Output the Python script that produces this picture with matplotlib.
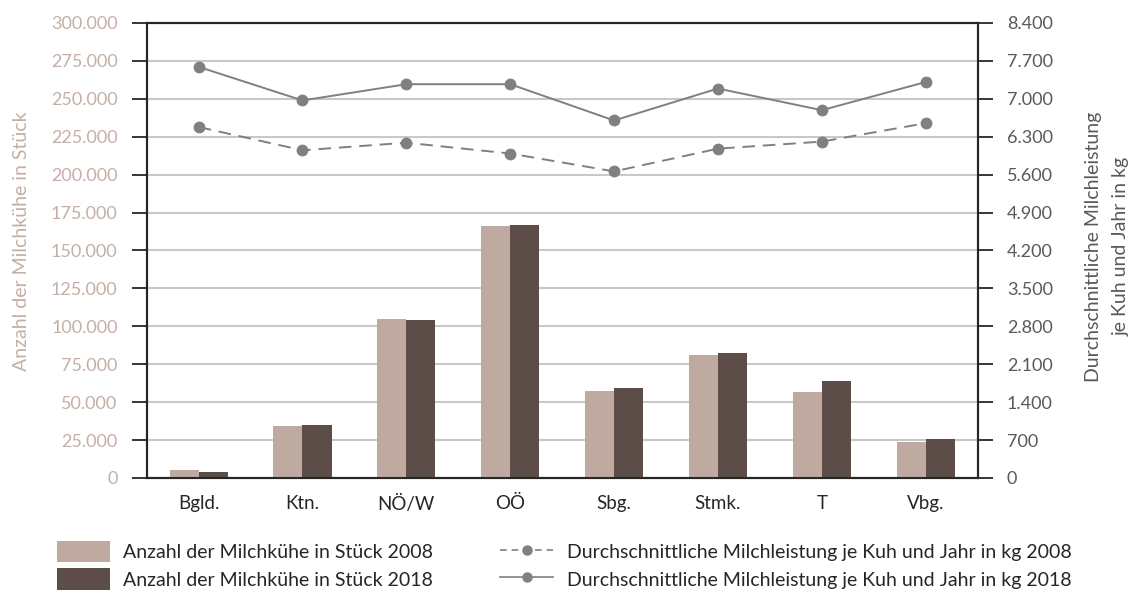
import matplotlib
matplotlib.use("Agg")
import matplotlib.pyplot as plt
import numpy as np
from matplotlib.patches import Patch
from matplotlib.lines import Line2D
from matplotlib.ticker import FuncFormatter

plt.rcParams['font.family'] = ['Lato', 'DejaVu Sans']

regions = ["Bgld.", "Ktn.", "NÖ/W", "OÖ", "Sbg.", "Stmk.", "T", "Vbg."]
cows_2008 = [5100, 34300, 104600, 166400, 57500, 81400, 56900, 23700]
cows_2018 = [3800, 35000, 103900, 167000, 59500, 82100, 64200, 25700]
yield_2008 = [6480, 6050, 6190, 5990, 5660, 6080, 6210, 6550]
yield_2018 = [7590, 6970, 7270, 7270, 6600, 7190, 6790, 7310]

label_cows_2008 = "Anzahl der Milchkühe in Stück 2008"
label_cows_2018 = "Anzahl der Milchkühe in Stück 2018"
label_yield_2008 = "Durchschnittliche Milchleistung je Kuh und Jahr in kg 2008"
label_yield_2018 = "Durchschnittliche Milchleistung je Kuh und Jahr in kg 2018"

c_light = "#BFAAA1"
c_dark = "#5C4D49"
c_line = "#808080"
c_left_txt = "#C4AFA6"
c_right_txt = "#595959"
c_grid = "#C8C8C8"

W, H = 1131, 594
fig = plt.figure(figsize=(W / 100, H / 100), dpi=100)
ax = fig.add_axes([0.1297, 0.1953, 0.7347, 0.766])
ax2 = ax.twinx()

x = np.arange(len(regions))
w = 0.28
ax.bar(x - w / 2, cows_2008, width=w, color=c_light, zorder=3)
ax.bar(x + w / 2, cows_2018, width=w, color=c_dark, zorder=3)

ax.set_xlim(-0.5, len(regions) - 0.5)
ax.set_ylim(0, 300000)
ax.set_yticks(np.arange(0, 300001, 25000))
de_fmt = FuncFormatter(lambda v, p: f"{int(round(v)):,}".replace(",", "."))
ax.yaxis.set_major_formatter(de_fmt)
ax.set_xticks(x)
ax.set_xticklabels(regions)
ax.grid(axis='y', color=c_grid, linewidth=1.5, zorder=0)
ax.set_axisbelow(True)

ax.tick_params(axis='y', direction='out', length=11, width=1.3, color='#262626',
               labelcolor=c_left_txt, labelsize=13, pad=10)
ax.tick_params(axis='x', length=0, labelsize=13.5, labelcolor='#262626', pad=12)

ax2.plot(x, yield_2008, color=c_line, lw=1.4, ls=(0, (6.5, 4)), marker='o', ms=7.5, zorder=4)
ax2.plot(x, yield_2018, color=c_line, lw=1.4, ls='-', marker='o', ms=7.5, zorder=4)
ax2.set_ylim(0, 8400)
ax2.set_yticks(np.arange(0, 8401, 700))
ax2.yaxis.set_major_formatter(de_fmt)
ax2.tick_params(axis='y', direction='out', length=11, width=1.3, color='#262626',
                labelcolor=c_right_txt, labelsize=13, pad=10)

for a in (ax, ax2):
    for s in a.spines.values():
        s.set_color('#262626')
        s.set_linewidth(1.5)

# axis titles
fig.text(22 / W, 1 - 241 / H, "Anzahl der Milchkühe in Stück", rotation=90,
         ha='center', va='center', color=c_left_txt, fontsize=14)
fig.text(1094 / W, 1 - 247 / H, "Durchschnittliche Milchleistung", rotation=90,
         ha='center', va='center', color=c_right_txt, fontsize=14)
fig.text(1121 / W, 1 - 246 / H, "je Kuh und Jahr in kg", rotation=90,
         ha='center', va='center', color=c_right_txt, fontsize=14)

fs = 14
bar_handles = [Patch(facecolor=c_light, edgecolor='none'), Patch(facecolor=c_dark, edgecolor='none')]
leg1 = fig.legend(bar_handles, [label_cows_2008, label_cows_2018], loc='upper left',
                  bbox_to_anchor=(57 / W, 1 - 541 / H), frameon=False, fontsize=fs,
                  handlelength=2.73, handleheight=1.3, handletextpad=0.67, labelspacing=0.32,
                  borderaxespad=0, borderpad=0)
for t in leg1.get_texts():
    t.set_color('#262626')

line_handles = [Line2D([], [], color=c_line, lw=1.2, ls=(0, (4, 3)), marker='o', ms=6.5),
                Line2D([], [], color=c_line, lw=1.2, ls='-', marker='o', ms=6.5)]
leg2 = fig.legend(line_handles, [label_yield_2008, label_yield_2018], loc='upper left',
                  bbox_to_anchor=(500 / W, 1 - 541 / H), frameon=False, fontsize=fs,
                  handlelength=2.73, handleheight=1.3, handletextpad=0.72, labelspacing=0.32,
                  borderaxespad=0, borderpad=0)
for t in leg2.get_texts():
    t.set_color('#262626')

fig.savefig("out.png", dpi=100)
